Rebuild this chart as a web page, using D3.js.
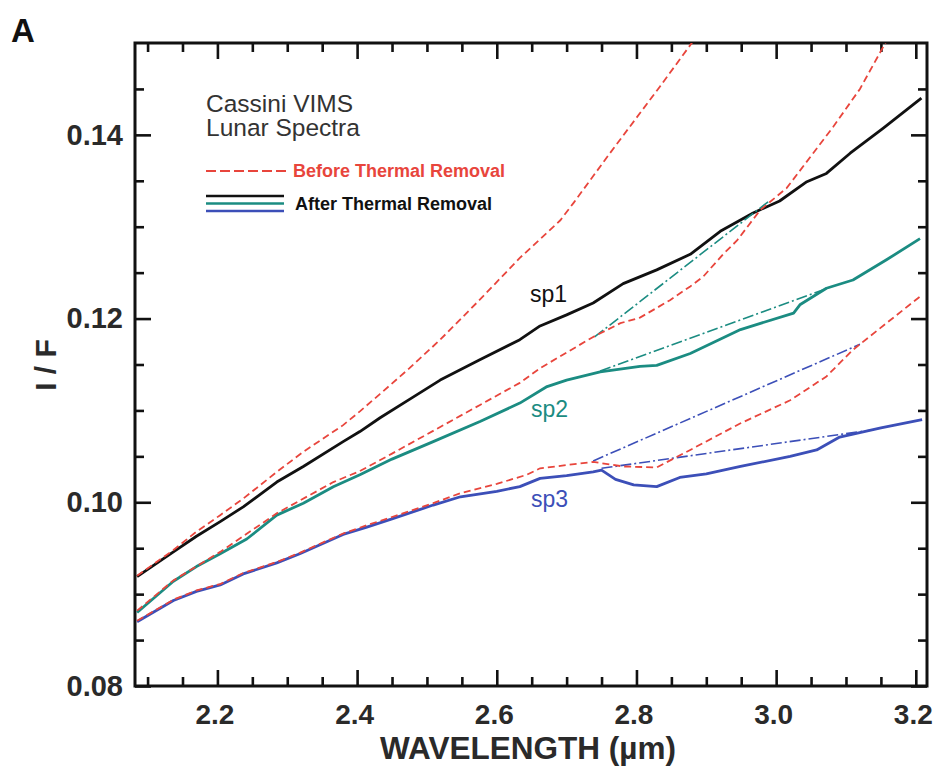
<!DOCTYPE html>
<html>
<head>
<meta charset="utf-8">
<script src="https://cdn.jsdelivr.net/npm/d3@7"></script>
<style>
    body { margin: 0; background: #fff; }
    svg { display: block; }
    text { font-family: "Liberation Sans", Arial, Helvetica, sans-serif; }
</style>
</head>
<body>
<script>
// spectra: [wavelength (um), I/F]
const sp1After = [[2.085, 0.0919], [2.137, 0.0946], [2.170, 0.0963], [2.204, 0.0979], [2.237, 0.0995],
    [2.285, 0.1022], [2.323, 0.1039], [2.380, 0.1066], [2.404, 0.1077], [2.433, 0.1092], [2.475, 0.1112],
    [2.519, 0.1133], [2.575, 0.1155], [2.633, 0.1177], [2.662, 0.1192], [2.700, 0.1204], [2.738, 0.1217],
    [2.781, 0.1238], [2.829, 0.1253], [2.877, 0.1270], [2.920, 0.1295], [2.967, 0.1315], [3.005, 0.1328],
    [3.044, 0.1349], [3.072, 0.1358], [3.106, 0.1380], [3.153, 0.1407], [3.208, 0.1440]];
const sp1Before = [[2.085, 0.0920], [2.137, 0.0948], [2.170, 0.0968], [2.204, 0.0986], [2.237, 0.1004],
    [2.285, 0.1033], [2.323, 0.1055], [2.380, 0.1084], [2.404, 0.1099], [2.433, 0.1118], [2.475, 0.1146],
    [2.519, 0.1177], [2.575, 0.1220], [2.633, 0.1266], [2.691, 0.1307], [2.710, 0.1326], [2.762, 0.1380],
    [2.834, 0.1453], [2.885, 0.1506]];
const sp2After = [[2.085, 0.0880], [2.137, 0.0914], [2.170, 0.0930], [2.204, 0.0944], [2.242, 0.0960],
    [2.285, 0.0986], [2.323, 0.0999], [2.366, 0.1017], [2.404, 0.1030], [2.450, 0.1047], [2.509, 0.1066],
    [2.576, 0.1088], [2.633, 0.1108], [2.672, 0.1126], [2.700, 0.1133], [2.748, 0.1142], [2.805, 0.1148],
    [2.829, 0.1149], [2.877, 0.1162], [2.949, 0.1188], [3.025, 0.1206], [3.034, 0.1215], [3.072, 0.1233],
    [3.110, 0.1242], [3.158, 0.1264], [3.206, 0.1287]];
const sp2Before = [[2.085, 0.0882], [2.137, 0.0915], [2.204, 0.0946], [2.285, 0.0988], [2.366, 0.1022],
    [2.404, 0.1034], [2.450, 0.1053], [2.519, 0.1082], [2.576, 0.1106], [2.633, 0.1130], [2.662, 0.1146],
    [2.738, 0.1180], [2.777, 0.1195], [2.805, 0.1201], [2.848, 0.1220], [2.877, 0.1235], [2.896, 0.1246],
    [2.924, 0.1270], [2.944, 0.1285], [2.977, 0.1318], [3.015, 0.1342], [3.053, 0.1380], [3.082, 0.1409],
    [3.120, 0.1450], [3.160, 0.1505]];
const sp3After = [[2.085, 0.0870], [2.137, 0.0893], [2.170, 0.0903], [2.204, 0.0910], [2.237, 0.0922],
    [2.285, 0.0934], [2.318, 0.0944], [2.380, 0.0965], [2.414, 0.0973], [2.450, 0.0982], [2.509, 0.0997],
    [2.548, 0.1006], [2.600, 0.1012], [2.633, 0.1017], [2.662, 0.1026], [2.700, 0.1029], [2.738, 0.1033],
    [2.750, 0.1035], [2.770, 0.1025], [2.796, 0.1019], [2.829, 0.1017], [2.862, 0.1027], [2.900, 0.1031],
    [2.949, 0.1039], [3.020, 0.1050], [3.058, 0.1057], [3.091, 0.1071], [3.150, 0.1081], [3.209, 0.1090]];
const sp3Before = [[2.085, 0.0871], [2.137, 0.0894], [2.170, 0.0904], [2.204, 0.0911], [2.237, 0.0923],
    [2.285, 0.0935], [2.318, 0.0945], [2.380, 0.0966], [2.414, 0.0975], [2.450, 0.0984], [2.509, 0.0999],
    [2.548, 0.1010], [2.600, 0.1020], [2.643, 0.1030], [2.662, 0.1037], [2.738, 0.1044], [2.781, 0.1039],
    [2.829, 0.1038], [2.877, 0.1057], [2.949, 0.1086], [3.020, 0.1111], [3.072, 0.1137], [3.110, 0.1166],
    [3.158, 0.1195], [3.206, 0.1224]];

// continuum (dash-dot) segments
const sp2Fits = [[[2.740, 0.1180], [2.990, 0.1328]], [[2.748, 0.1143], [3.070, 0.1232]]];
const sp3Fits = [[[2.738, 0.1045], [3.120, 0.1172]], [[2.750, 0.1037], [3.140, 0.1079]]];

const xMajor = [2.2, 2.4, 2.6, 2.8, 3.0, 3.2];
const yMajor = [0.08, 0.10, 0.12, 0.14];

const width = 934, height = 773;
const plotLeft = 135, plotRight = 927, plotTop = 43, plotBottom = 686;

const red = '#e8453c', teal = '#1b8c82', blue = '#3c4fb8', black = '#111';

const svg = d3.select('body').append('svg')
    .attr('width', width)
    .attr('height', height);

const x = d3.scaleLinear().domain([2.082, 3.216]).range([plotLeft, plotRight]);
const y = d3.scaleLinear().domain([0.08, 0.15]).range([plotBottom, plotTop]);

const xMinor = d3.range(2.1, 3.2001, 0.05).filter(v => !xMajor.some(m => Math.abs(m - v) < 1e-6));
const yMinor = d3.range(0.085, 0.1451, 0.005).filter(v => !yMajor.some(m => Math.abs(m - v) < 1e-6));

svg.append('clipPath').attr('id', 'plot')
    .append('rect')
    .attr('x', plotLeft).attr('y', plotTop)
    .attr('width', plotRight - plotLeft).attr('height', plotBottom - plotTop);

// axes, ticks pointing inward
function styleAxis(sel) {
    sel.select('.domain').remove();
    sel.selectAll('.tick line').attr('stroke', '#111').attr('stroke-width', 2.6);
    sel.selectAll('.tick text')
        .attr('fill', '#2a2a2a')
        .style('font-weight', 'bold');
}

svg.append('g')
    .attr('transform', `translate(0,${plotBottom})`)
    .call(d3.axisBottom(x).tickValues(xMajor).tickFormat(d3.format('.1f')).tickSize(-16).tickPadding(18))
    .call(styleAxis)
    .selectAll('.tick text')
    .attr('dx', -3)
    .style('font-size', '28px');
svg.append('g')
    .attr('transform', `translate(0,${plotBottom})`)
    .call(d3.axisBottom(x).tickValues(xMinor).tickFormat('').tickSize(-9))
    .call(styleAxis);
svg.append('g')
    .attr('transform', `translate(0,${plotTop})`)
    .call(d3.axisTop(x).tickValues(xMajor).tickFormat('').tickSize(-16))
    .call(styleAxis);
svg.append('g')
    .attr('transform', `translate(0,${plotTop})`)
    .call(d3.axisTop(x).tickValues(xMinor).tickFormat('').tickSize(-9))
    .call(styleAxis);

svg.append('g')
    .attr('transform', `translate(${plotLeft},0)`)
    .call(d3.axisLeft(y).tickValues(yMajor).tickFormat(d3.format('.2f')).tickSize(-16).tickPadding(12))
    .call(styleAxis)
    .selectAll('.tick text').style('font-size', '29px');
svg.append('g')
    .attr('transform', `translate(${plotLeft},0)`)
    .call(d3.axisLeft(y).tickValues(yMinor).tickFormat('').tickSize(-9))
    .call(styleAxis);
svg.append('g')
    .attr('transform', `translate(${plotRight},0)`)
    .call(d3.axisRight(y).tickValues(yMajor).tickFormat('').tickSize(-16))
    .call(styleAxis);
svg.append('g')
    .attr('transform', `translate(${plotRight},0)`)
    .call(d3.axisRight(y).tickValues(yMinor).tickFormat('').tickSize(-9))
    .call(styleAxis);

svg.append('rect')
    .attr('x', plotLeft).attr('y', plotTop)
    .attr('width', plotRight - plotLeft).attr('height', plotBottom - plotTop)
    .attr('fill', 'none')
    .attr('stroke', '#111')
    .attr('stroke-width', 3);

// curves
const line = d3.line().x(d => x(d[0])).y(d => y(d[1]));
const plot = svg.append('g').attr('clip-path', 'url(#plot)');

[[sp1After, black], [sp2After, teal], [sp3After, blue]].forEach(([data, color]) => {
    plot.append('path')
        .attr('d', line(data))
        .attr('fill', 'none')
        .attr('stroke', color)
        .attr('stroke-width', 2.8)
        .attr('stroke-linejoin', 'round');
});

[[sp2Fits, teal], [sp3Fits, blue]].forEach(([segs, color]) => {
    segs.forEach(seg => {
        plot.append('path')
            .attr('d', line(seg))
            .attr('fill', 'none')
            .attr('stroke', color)
            .attr('stroke-width', 1.6)
            .attr('stroke-dasharray', '11,3,2,3');
    });
});

[sp1Before, sp2Before, sp3Before].forEach(data => {
    plot.append('path')
        .attr('d', line(data))
        .attr('fill', 'none')
        .attr('stroke', red)
        .attr('stroke-width', 1.8)
        .attr('stroke-dasharray', '7,4');
});

// curve labels
[['sp1', black, 530, 302], ['sp2', teal, 531, 417], ['sp3', blue, 531, 507]].forEach(([t, c, lx, ly]) => {
    svg.append('text')
        .attr('x', lx).attr('y', ly)
        .attr('fill', c)
        .style('font-size', '23px')
        .text(t);
});

// legend
svg.append('text').attr('x', 206).attr('y', 112)
    .attr('fill', '#333').style('font-size', '24.5px').text('Cassini VIMS');
svg.append('text').attr('x', 206).attr('y', 136)
    .attr('fill', '#333').style('font-size', '24.5px').text('Lunar Spectra');

svg.append('line')
    .attr('x1', 206).attr('x2', 290).attr('y1', 171).attr('y2', 171)
    .attr('stroke', red).attr('stroke-width', 2)
    .attr('stroke-dasharray', '10,4');
svg.append('text').attr('x', 293).attr('y', 177)
    .attr('fill', red).style('font-size', '18px').style('font-weight', 'bold')
    .text('Before Thermal Removal');

[[black, 196], [teal, 203.5], [blue, 211]].forEach(([c, ly]) => {
    svg.append('line')
        .attr('x1', 206).attr('x2', 284).attr('y1', ly).attr('y2', ly)
        .attr('stroke', c).attr('stroke-width', 2.6);
});
svg.append('text').attr('x', 295).attr('y', 210)
    .attr('fill', '#111').style('font-size', '18px').style('font-weight', 'bold')
    .text('After Thermal Removal');

// axis titles and panel letter
svg.append('text')
    .attr('x', 528).attr('y', 759)
    .attr('text-anchor', 'middle')
    .attr('fill', '#2a2a2a')
    .style('font-size', '31.5px').style('font-weight', 'bold')
    .text('WAVELENGTH (\u00b5m)');

svg.append('text')
    .attr('transform', 'translate(56,365) rotate(-90)')
    .attr('text-anchor', 'middle')
    .attr('fill', '#2a2a2a')
    .style('font-size', '30px').style('font-weight', 'bold')
    .text('I / F');

svg.append('text')
    .attr('x', 11).attr('y', 42)
    .attr('fill', '#111')
    .style('font-size', '33px').style('font-weight', 'bold')
    .text('A');
</script>
</body>
</html>
